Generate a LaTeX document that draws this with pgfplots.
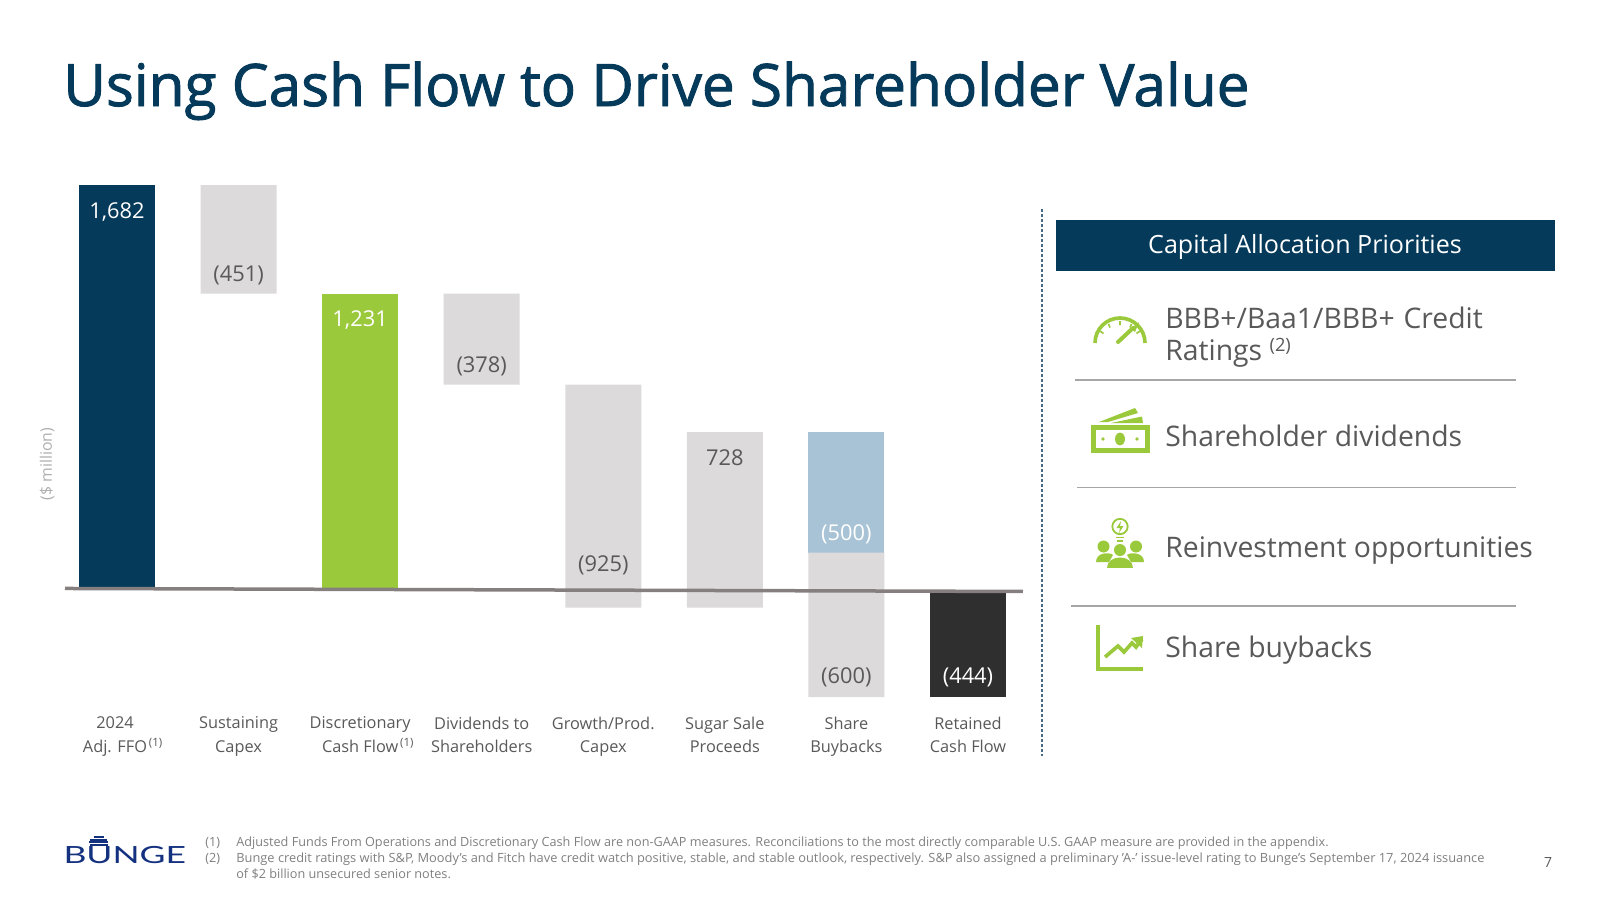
\documentclass[border=0pt]{standalone}
\usepackage{fontspec}
\usepackage{pgfplots}
\usepackage{pgfplotstable}
\pgfplotsset{compat=1.18}
\setmainfont{Open Sans}
\newfontfamily\titlefont[FakeBold=1.6]{Open Sans}
\newfontfamily\logofont{Lato}

\definecolor{navy}{HTML}{053A5A}
\definecolor{leaf}{HTML}{9BC93C}
\definecolor{lightgrey}{HTML}{DCDADB}
\definecolor{paleblue}{HTML}{A8C3D6}
\definecolor{coal}{HTML}{2F2F2F}
\definecolor{textgrey}{HTML}{595959}
\definecolor{notegrey}{HTML}{7F7F7F}
\definecolor{rule}{HTML}{857F7F}
\definecolor{logoblue}{HTML}{13317F}

% waterfall: base is the invisible part under each floating bar
\pgfplotstableread{
x base navy grey green blue coal
0 0    1682 0   0    0   0
1 1231 0    451 0    0   0
2 0    0    0   1231 0   0
3 853  0    378 0    0   0
4 -72  0    925 0    0   0
5 -72  0    728 0    0   0
6 -444 0    600 0    500 0
7 0    0    0   0    0   -444
}\bridgetable

\newcommand{\sz}[2]{\fontsize{#1}{#2}\selectfont}

\begin{document}
\begin{tikzpicture}[x=0.6pt,y=-0.6pt,
  lab/.style={font=\sz{13.1}{15},inner sep=0pt,anchor=center},
  item/.style={font=\sz{17}{19},text=textgrey,inner sep=0pt,anchor=base west},
  note/.style={font=\sz{7.6}{9},text=notegrey,inner sep=0pt,anchor=base west}]
\useasboundingbox (0,0) rectangle (1600,900);

% title
\node[font=\titlefont\sz{35.1}{38},text=navy,inner sep=0pt,anchor=base west] at (63,106)
  {Using Cash Flow to Drive Shareholder Value};

\begin{axis}[
  at={(39pt,-418.26pt)}, anchor=south west,
  scale only axis, width=574.8pt, height=307.26pt,
  xmin=-0.4277, xmax=7.4525, ymin=-444, ymax=1682,
  ybar stacked, stack negative=on previous, bar width=45.6pt,
  axis line style={draw=none}, tick style={draw=none},
  ytick=\empty, xtick={0,...,7},
  xticklabels={{2024\hspace*{2.4pt}\\Adj. FFO\rlap{\textsuperscript{\,(1)}}\hspace*{2.4pt}},
    {Sustaining\\Capex},
    {Discretionary\\Cash Flow\rlap{\textsuperscript{\,(1)}}},
    {Dividends to\\Shareholders},
    {Growth/Prod.\\Capex},
    {Sugar Sale\\Proceeds},
    {Share\\Buybacks},
    {Retained\\Cash Flow}},
  xticklabel style={align=center,font=\sz{9.8}{14.1},text=textgrey,yshift=-8.4pt},
  every axis y label/.style={at={(axis description cs:-0.0188,0.455)},rotate=90,anchor=center},
  ylabel={\sz{9.5}{10}\color{lightgrey!80!black}(\$ million)},
  clip=false
]
\addplot[draw=none,fill=none] table[x=x,y=base] {\bridgetable};
\addplot[draw=none,fill=navy] table[x=x,y=navy] {\bridgetable};
\addplot[draw=none,fill=lightgrey] table[x=x,y=grey] {\bridgetable};
\addplot[draw=none,fill=leaf] table[x=x,y=green] {\bridgetable};
\addplot[draw=none,fill=paleblue] table[x=x,y=blue] {\bridgetable};
\addplot[draw=none,fill=coal] table[x=x,y=coal] {\bridgetable};
\end{axis}

% second axis for the rule and the value labels, no stacking here
\begin{axis}[
  at={(39pt,-418.26pt)}, anchor=south west,
  scale only axis, width=574.8pt, height=307.26pt,
  xmin=-0.4277, xmax=7.4525, ymin=-444, ymax=1682,
  hide axis, clip=false
]
\addplot[rule,line width=2.1pt,forget plot] coordinates {(-0.4277,7) (7.4525,-5.4)};
\node[lab,text=white] at (axis cs:0,1570) {1,682};
\node[lab,text=textgrey] at (axis cs:1,1306) {(451)};
\node[lab,text=white] at (axis cs:2,1120) {1,231};
\node[lab,text=textgrey] at (axis cs:3,930) {(378)};
\node[lab,text=textgrey] at (axis cs:4,104) {(925)};
\node[lab,text=textgrey] at (axis cs:5,548) {728};
\node[lab,text=white] at (axis cs:6,233) {(500)};
\node[lab,text=textgrey] at (axis cs:6,-363) {(600)};
\node[lab,text=white] at (axis cs:7,-363) {(444)};
\end{axis}

% divider
\draw[navy!75,line width=0.8pt,dash pattern=on 1.8pt off 1.2pt] (1042,209) -- (1042,756);

% right panel
\fill[navy] (1056,220) rectangle (1555,271);
\node[font=\sz{15.05}{17},text=white,inner sep=0pt] at (1305,247) {Capital Allocation Priorities};
\node[item] at (1165,328) {BBB+/Baa1/BBB+\hspace{0.05em} Credit};
\node[item] at (1165,360) {Ratings \raisebox{0.55ex}{\sz{11}{12}(2)}};
\node[item] at (1165,446) {Shareholder dividends};
\node[item] at (1165,557) {Reinvestment opportunities};
\node[item] at (1165,657) {Share buybacks};
\foreach \xa/\yy in {1074.5/380,1076.5/487.5,1070.5/606}
  \draw[black!35,line width=0.9pt] (\xa,\yy) -- (1516,\yy);

% gauge icon
\draw[leaf,line width=2.2pt] (1095,343) arc[start angle=180,end angle=0,radius=15pt];
\draw[leaf,line width=1pt] (1100,331) -- (1103.5,333.5) (1108.5,324) -- (1110,327.5)
  (1120,321) -- (1120,325) (1131.5,324) -- (1130,327.5) (1140,331) -- (1136.5,333.5);
\draw[leaf,line width=2.4pt,line cap=round] (1118,342) -- (1133,328);
\fill[leaf] (1131,329) -- (1139,322) -- (1135,332) -- cycle;

% money icon
\draw[leaf,line width=3pt] (1093.5,427.5) rectangle (1147,450.5);
\fill[leaf] (1120,439) ellipse[x radius=3pt,y radius=3.8pt];
\fill[leaf] (1103,439) circle[radius=1.1pt] (1137,439) circle[radius=1.1pt];
\fill[leaf] (1099,422) -- (1135,408) -- (1138,413) -- (1108,422) -- cycle;
\fill[leaf] (1111,423) -- (1142,416.5) -- (1143,423) -- cycle;

% people icon
\draw[leaf,line width=1.1pt] (1120,526.5) circle[radius=4.6pt];
\fill[leaf] (1121,521) -- (1116.5,528) -- (1120,528) -- (1119,533) -- (1123.5,526) -- (1120,526) -- cycle;
\draw[leaf,line width=1.1pt] (1116,537.5) -- (1124,537.5) (1117,541) -- (1123,541);
\fill[leaf] (1103.5,546.5) circle[radius=3.6pt] (1136,546.5) circle[radius=3.6pt] (1120,550) circle[radius=3.6pt];
\fill[leaf] (1096,562) .. controls (1096,552) and (1110,552) .. (1113,555) -- (1109,562) -- cycle;
\fill[leaf] (1144,562) .. controls (1144,552) and (1130,552) .. (1127,555) -- (1131,562) -- cycle;
\fill[leaf] (1107,568) .. controls (1107,554) and (1133,554) .. (1133,568) -- cycle;

% chart icon
\draw[leaf,line width=2.4pt] (1098,625) -- (1098,668.5) -- (1143,668.5);
\draw[leaf,line width=2.2pt] (1105,657) -- (1118,646) -- (1124,652) -- (1132,643) -- (1136,647) -- (1142,639);
\fill[leaf] (1131,638) -- (1143,636) -- (1142,648) -- cycle;

% footnotes
\node[note] at (205,846) {(1)};
\node[note] at (236,846) {Adjusted Funds From Operations and Discretionary Cash Flow are non-GAAP measures. Reconciliations to the most directly comparable U.S. GAAP measure are provided in the appendix.};
\node[note] at (205,862) {(2)};
\node[note,xscale=1.014] at (236,862) {Bunge credit ratings with S\&P, Moody's and Fitch have credit watch positive, stable, and stable outlook, respectively. S\&P also assigned a preliminary 'A-' issue-level rating to Bunge's September 17, 2024 issuance};
\node[note] at (236,878) {of \$2 billion unsecured senior notes.};
\node[font=\sz{8.4}{10},text=textgrey,inner sep=0pt] at (1548,862) {7};

% logo
\node[font=\logofont\sz{14.2}{16},text=logoblue,inner sep=0pt,anchor=base west,xscale=1.5] at (63,863) {BUNGE};
\foreach \yy/\w in {837/5,839.5/8.5,842/9.5,844.5/9}
  \draw[logoblue,line width=1.2pt] (98.5-\w,\yy) -- (98.5+\w,\yy);

\end{tikzpicture}
\end{document}
